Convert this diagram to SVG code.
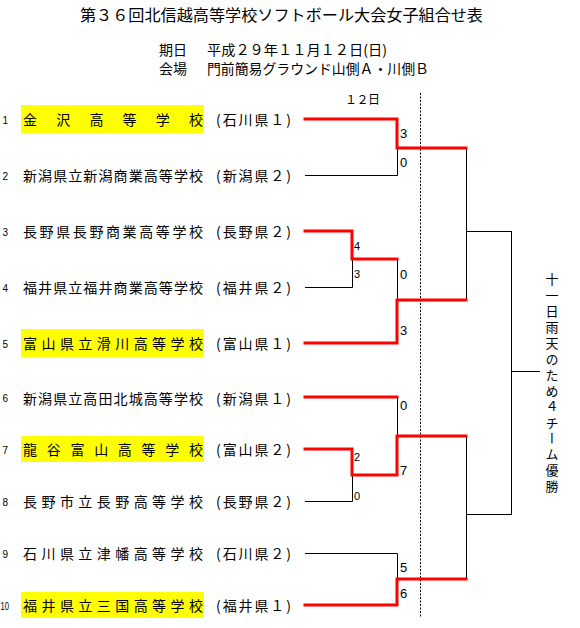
<svg xmlns="http://www.w3.org/2000/svg" width="580" height="628" viewBox="0 0 580 628">
<style>
.j{font-family:"Noto Sans CJK JP","Noto Sans CJK SC",sans-serif;fill:#000}
.t{font-size:15.5px}
.h{font-size:14px}
.n{font-size:14px}
.p{font-size:14px}
.no{font-family:"Liberation Sans",sans-serif;font-size:10px;text-anchor:end}
.sb{font-family:"Liberation Sans",sans-serif;font-size:13px}
.ss{font-family:"Liberation Sans",sans-serif;font-size:11px}
.hl{fill:#FFFF00}
.red{fill:none;stroke:#FF0000;stroke-width:3;stroke-linejoin:miter;stroke-linecap:square}
.blk{fill:none;stroke:#000;stroke-width:1}
.dot{fill:none;stroke:#000;stroke-width:1;stroke-dasharray:2 1.5}
</style>
<rect width="580" height="628" fill="#fff"/>
<g id="title">
<text class="j t" x="80" y="21" textLength="403" lengthAdjust="spacingAndGlyphs">第３６回北信越高等学校ソフトボール大会女子組合せ表</text>
<text class="j h" x="159" y="55">期日</text>
<text class="j h" x="207" y="55" textLength="180" lengthAdjust="spacingAndGlyphs">平成２９年１１月１２日(日)</text>
<text class="j h" x="159" y="74">会場</text>
<text class="j h" x="207" y="74" textLength="222" lengthAdjust="spacingAndGlyphs">門前簡易グラウンド山側Ａ・川側Ｂ</text>
<text class="j" font-size="12" x="345" y="104" textLength="35" lengthAdjust="spacing">１２日</text>
</g>
<g id="teams">
<rect class="hl" x="21" y="105" width="183" height="28"/>
<rect class="hl" x="21" y="329" width="183" height="28"/>
<rect class="hl" x="21" y="436" width="183" height="26"/>
<rect class="hl" x="21" y="592" width="183" height="26"/>
<g id="team1"><text class="no" x="8" y="124">1</text><text class="j n" x="23" y="125" textLength="180" lengthAdjust="spacing">金沢高等学校</text><text class="j p" x="216" y="125" textLength="75" lengthAdjust="spacing">(石川県１)</text></g>
<g id="team2"><text class="no" x="8" y="180">2</text><text class="j n" x="23" y="181" textLength="180" lengthAdjust="spacing">新潟県立新潟商業高等学校</text><text class="j p" x="216" y="181" textLength="75" lengthAdjust="spacing">(新潟県２)</text></g>
<g id="team3"><text class="no" x="8" y="236">3</text><text class="j n" x="23" y="237" textLength="180" lengthAdjust="spacing">長野県長野商業高等学校</text><text class="j p" x="216" y="237" textLength="75" lengthAdjust="spacing">(長野県２)</text></g>
<g id="team4"><text class="no" x="8" y="292">4</text><text class="j n" x="23" y="293" textLength="180" lengthAdjust="spacing">福井県立福井商業高等学校</text><text class="j p" x="216" y="293" textLength="75" lengthAdjust="spacing">(福井県２)</text></g>
<g id="team5"><text class="no" x="8" y="348">5</text><text class="j n" x="23" y="349" textLength="180" lengthAdjust="spacing">富山県立滑川高等学校</text><text class="j p" x="216" y="349" textLength="75" lengthAdjust="spacing">(富山県１)</text></g>
<g id="team6"><text class="no" x="8" y="402">6</text><text class="j n" x="23" y="404" textLength="180" lengthAdjust="spacing">新潟県立高田北城高等学校</text><text class="j p" x="216" y="404" textLength="75" lengthAdjust="spacing">(新潟県１)</text></g>
<g id="team7"><text class="no" x="8" y="454">7</text><text class="j n" x="23" y="455" textLength="180" lengthAdjust="spacing">龍谷富山高等学校</text><text class="j p" x="216" y="455" textLength="75" lengthAdjust="spacing">(富山県２)</text></g>
<g id="team8"><text class="no" x="8" y="506">8</text><text class="j n" x="23" y="507" textLength="180" lengthAdjust="spacing">長野市立長野高等学校</text><text class="j p" x="216" y="507" textLength="75" lengthAdjust="spacing">(長野県２)</text></g>
<g id="team9"><text class="no" x="8" y="558">9</text><text class="j n" x="23" y="559" textLength="180" lengthAdjust="spacing">石川県立津幡高等学校</text><text class="j p" x="216" y="559" textLength="75" lengthAdjust="spacing">(石川県２)</text></g>
<g id="team10"><text font-family="Liberation Sans, sans-serif" font-size="10" x="0.5" y="610" textLength="8.5" lengthAdjust="spacingAndGlyphs">10</text><text class="j n" x="23" y="611" textLength="180" lengthAdjust="spacing">福井県立三国高等学校</text><text class="j p" x="216" y="611" textLength="75" lengthAdjust="spacing">(福井県１)</text></g>
</g>
<g id="connectors">
<line class="dot" x1="420.5" y1="93" x2="420.5" y2="618"/>
<path class="blk" d="M305,175.5H397.5V148 M305,287.5H352.5V259 M397.5,259V300 M397.5,397V436 M305,501.5H352.5V475 M305,553.5H397.5V579"/>
<path class="blk" d="M466.5,148V300 M466,231.5H511.5 M466.5,436V579 M466,514.5H511.5 M511.5,231V515 M511,371.5H540"/>
<path class="red" d="M305,119H397V148H466"/>
<path class="red" d="M305,231H352V259H397"/>
<path class="red" d="M305,343H397V300H466"/>
<path class="red" d="M305,397H397"/>
<path class="red" d="M305,449H352V475H397V436H466"/>
<path class="red" d="M305,605H397V579H466"/>
</g>
<g id="scores">
<text class="sb" x="400" y="138">3</text>
<text class="sb" x="400" y="167">0</text>
<text class="ss" x="354" y="250">4</text>
<text class="ss" x="354" y="278">3</text>
<text class="sb" x="400" y="279">0</text>
<text class="sb" x="400" y="335">3</text>
<text class="sb" x="400" y="410">0</text>
<text class="ss" x="354" y="461">2</text>
<text class="ss" x="354" y="500">0</text>
<text class="sb" x="400" y="475">7</text>
<text class="sb" x="400" y="572">5</text>
<text class="sb" x="400" y="598">6</text>
</g>
<g id="result">
<text class="j" font-size="13" x="552" y="273" writing-mode="vertical-rl" letter-spacing="2.9">十一日雨天のため４チーム優勝</text>
</g>
</svg>
